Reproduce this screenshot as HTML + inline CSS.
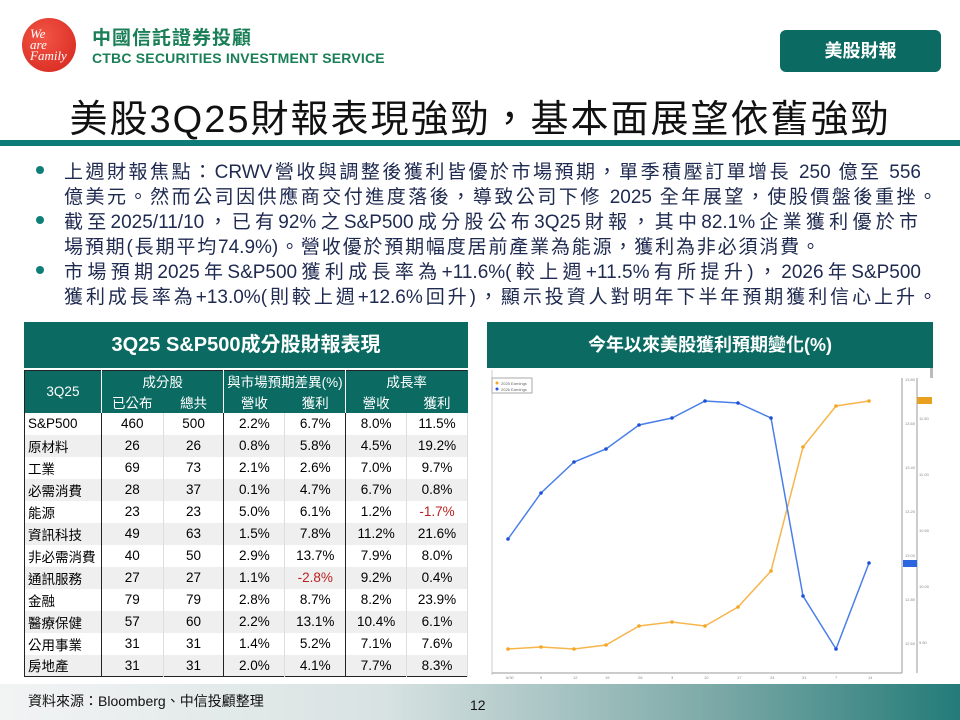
<!DOCTYPE html>
<html><head><meta charset="utf-8"><style>
*{margin:0;padding:0;box-sizing:border-box}
body{width:960px;height:720px;position:relative;background:#fff;font-family:"Liberation Sans","Noto Sans CJK TC",sans-serif;overflow:hidden}
.a{position:absolute}
.bul{position:absolute;left:36px;width:8px;height:8px;border-radius:50%;background:#0d7f78}
.txt{position:absolute;left:64px;font-size:19px;color:#1f2a50;line-height:24px;white-space:nowrap;text-align:justify;text-align-last:justify;text-justify:inter-character}
table{border-collapse:collapse;position:absolute;left:24px;top:370px;width:444px;font-size:13.5px}
td{height:22px;text-align:center;padding:0;border-right:1px solid #ddd}
td.b{border-right:1px solid #222}
tr.h td{background:#0b6b62;color:#fff;height:21px;border-color:#0b6b62;border-right:1px solid #0b6b62}
tr.h td.b{border-right:1px solid #fff}
tr.g td{background:#efefef}
td.l{text-align:left;padding-left:3px}
.r{color:#b22}
</style></head><body>
<!-- logo -->
<div class="a" style="left:22px;top:18px;width:54px;height:54px;border-radius:50%;background:radial-gradient(circle at 40% 35%,#f25545,#d4241c)"></div>
<div class="a" style="left:30px;top:28px;font:italic 13px 'Liberation Serif',serif;color:#fff;line-height:11px">We<br>are<br>Family</div>
<div class="a" style="left:92px;top:23px;font-size:19px;font-weight:bold;color:#1a7f57;letter-spacing:1px">中國信託證券投顧</div>
<div class="a" style="left:92px;top:50px;font-size:14px;font-weight:bold;color:#1a7f57;letter-spacing:0.2px">CTBC SECURITIES INVESTMENT SERVICE</div>
<div class="a" style="left:780px;top:30px;width:161px;height:42px;background:#0b6b62;border-radius:6px;color:#fff;font-size:18px;font-weight:bold;text-align:center;line-height:42px">美股財報</div>
<div class="a" style="left:0;width:960px;top:88px;text-align:center;font-size:38px;color:#111;letter-spacing:2px">美股3Q25財報表現強勁，基本面展望依舊強勁</div>
<div class="a" style="left:0;top:140px;width:960px;height:6px;background:#0d7b78"></div>
<!-- bullets -->
<div class="bul" style="top:166px"></div>
<div class="txt" style="top:161px;width:857px">上週財報焦點：CRWV營收與調整後獲利皆優於市場預期，單季積壓訂單增長 250 億至 556</div>
<div class="txt" style="top:186px;width:873px">億美元。然而公司因供應商交付進度落後，導致公司下修 2025 全年展望，使股價盤後重挫。</div>
<div class="bul" style="top:216px"></div>
<div class="txt" style="top:211px;width:854px">截至2025/11/10，已有92%之S&amp;P500成分股公布3Q25財報，其中82.1%企業獲利優於市</div>
<div class="txt" style="top:236px;width:756px">場預期(長期平均74.9%)。營收優於預期幅度居前產業為能源，獲利為非必須消費。</div>
<div class="bul" style="top:266px"></div>
<div class="txt" style="top:261px;width:857px">市場預期2025年S&amp;P500獲利成長率為+11.6%(較上週+11.5%有所提升)，2026年S&amp;P500</div>
<div class="txt" style="top:286px;width:873px">獲利成長率為+13.0%(則較上週+12.6%回升)，顯示投資人對明年下半年預期獲利信心上升。</div>
<!-- table -->
<div class="a" style="left:24px;top:322px;width:444px;height:46px;background:#0b6b62;color:#fff;font-size:20px;font-weight:bold;text-align:center;line-height:46px">3Q25 S&amp;P500成分股財報表現</div>
<table style="border:1px solid #222">
<colgroup><col style="width:77px"><col style="width:62px"><col style="width:61px"><col style="width:61px"><col style="width:61px"><col style="width:61px"><col style="width:61px"></colgroup>
<tr class="h"><td rowspan="2" class="b">3Q25</td><td colspan="2" class="b">成分股</td><td colspan="2" class="b">與市場預期差異(%)</td><td colspan="2">成長率</td></tr>
<tr class="h"><td>已公布</td><td class="b">總共</td><td>營收</td><td class="b">獲利</td><td>營收</td><td>獲利</td></tr>
<tr><td class="l b">S&amp;P500</td><td>460</td><td class="b">500</td><td>2.2%</td><td class="b">6.7%</td><td>8.0%</td><td>11.5%</td></tr>
<tr class="g"><td class="l b">原材料</td><td>26</td><td class="b">26</td><td>0.8%</td><td class="b">5.8%</td><td>4.5%</td><td>19.2%</td></tr>
<tr><td class="l b">工業</td><td>69</td><td class="b">73</td><td>2.1%</td><td class="b">2.6%</td><td>7.0%</td><td>9.7%</td></tr>
<tr class="g"><td class="l b">必需消費</td><td>28</td><td class="b">37</td><td>0.1%</td><td class="b">4.7%</td><td>6.7%</td><td>0.8%</td></tr>
<tr><td class="l b">能源</td><td>23</td><td class="b">23</td><td>5.0%</td><td class="b">6.1%</td><td>1.2%</td><td class="r">-1.7%</td></tr>
<tr class="g"><td class="l b">資訊科技</td><td>49</td><td class="b">63</td><td>1.5%</td><td class="b">7.8%</td><td>11.2%</td><td>21.6%</td></tr>
<tr><td class="l b">非必需消費</td><td>40</td><td class="b">50</td><td>2.9%</td><td class="b">13.7%</td><td>7.9%</td><td>8.0%</td></tr>
<tr class="g"><td class="l b">通訊服務</td><td>27</td><td class="b">27</td><td>1.1%</td><td class="b r">-2.8%</td><td>9.2%</td><td>0.4%</td></tr>
<tr><td class="l b">金融</td><td>79</td><td class="b">79</td><td>2.8%</td><td class="b">8.7%</td><td>8.2%</td><td>23.9%</td></tr>
<tr class="g"><td class="l b">醫療保健</td><td>57</td><td class="b">60</td><td>2.2%</td><td class="b">13.1%</td><td>10.4%</td><td>6.1%</td></tr>
<tr><td class="l b">公用事業</td><td>31</td><td class="b">31</td><td>1.4%</td><td class="b">5.2%</td><td>7.1%</td><td>7.6%</td></tr>
<tr class="g"><td class="l b">房地產</td><td>31</td><td class="b">31</td><td>2.0%</td><td class="b">4.1%</td><td>7.7%</td><td>8.3%</td></tr>
</table>
<!-- chart -->
<div class="a" style="left:487px;top:322px;width:446px;height:46px;background:#0b6b62;color:#fff;font-size:18px;font-weight:bold;text-align:center;line-height:46px">今年以來美股獲利預期變化(%)</div>
<svg class="a" style="left:487px;top:368px" width="446" height="314" viewBox="487 368 446 314">
<rect x="487" y="368" width="446" height="314" fill="#fff"/>
<line x1="492" y1="370" x2="492" y2="675" stroke="#ccc"/>
<line x1="492" y1="673" x2="902" y2="673" stroke="#999"/>
<line x1="902" y1="378" x2="902" y2="673" stroke="#999"/>
<line x1="917" y1="378" x2="917" y2="673" stroke="#999"/>
<rect x="492" y="378" width="40" height="15" fill="#fff" stroke="#aaa"/>
<circle cx="497" cy="383" r="1.5" fill="#f5a623"/><circle cx="497" cy="389" r="1.5" fill="#2255dd"/>
<text x="501" y="385" font-size="4" fill="#666">2025 Earnings</text><text x="501" y="391" font-size="4" fill="#666">2026 Earnings</text>
<polyline fill="none" stroke="#f7b54c" stroke-width="1.5" points="508,649 541,647 574,649 606,645 639,626 672,622 705,626 738,607 771,571 803,447 836,406 869,401"/>
<polyline fill="none" stroke="#4a7fe8" stroke-width="1.5" points="508,539 541,493 574,462 606,449 639,425 672,418 705,401 738,403 771,418 803,596 836,649 869,563"/>
<g fill="#f5a623"><circle cx="508" cy="649" r="1.8"/><circle cx="541" cy="647" r="1.8"/><circle cx="574" cy="649" r="1.8"/><circle cx="606" cy="645" r="1.8"/><circle cx="639" cy="626" r="1.8"/><circle cx="672" cy="622" r="1.8"/><circle cx="705" cy="626" r="1.8"/><circle cx="738" cy="607" r="1.8"/><circle cx="771" cy="571" r="1.8"/><circle cx="803" cy="447" r="1.8"/><circle cx="836" cy="406" r="1.8"/><circle cx="869" cy="401" r="1.8"/></g>
<g fill="#1f4fd8"><circle cx="508" cy="539" r="1.8"/><circle cx="541" cy="493" r="1.8"/><circle cx="574" cy="462" r="1.8"/><circle cx="606" cy="449" r="1.8"/><circle cx="639" cy="425" r="1.8"/><circle cx="672" cy="418" r="1.8"/><circle cx="705" cy="401" r="1.8"/><circle cx="738" cy="403" r="1.8"/><circle cx="771" cy="418" r="1.8"/><circle cx="803" cy="596" r="1.8"/><circle cx="836" cy="649" r="1.8"/><circle cx="869" cy="563" r="1.8"/></g>
<rect x="917" y="397" width="15" height="7" fill="#e8a020"/>
<rect x="903" y="560" width="14" height="7" fill="#2a66e0"/>
<g font-size="4" fill="#888"><text x="905" y="381">13.80</text><text x="905" y="425">13.60</text><text x="905" y="469">13.40</text><text x="905" y="513">13.20</text><text x="905" y="557">13.00</text><text x="905" y="601">12.80</text><text x="905" y="645">12.60</text>
<text x="919" y="420">11.50</text><text x="919" y="476">11.00</text><text x="919" y="532">10.50</text><text x="919" y="588">10.00</text><text x="919" y="644">9.50</text></g>
<g font-size="4" fill="#888"><text x="506" y="679">6/30</text><text x="540" y="679">5</text><text x="573" y="679">12</text><text x="605" y="679">19</text><text x="638" y="679">26</text><text x="671" y="679">3</text><text x="704" y="679">10</text><text x="737" y="679">17</text><text x="770" y="679">24</text><text x="802" y="679">31</text><text x="835" y="679">7</text><text x="868" y="679">14</text></g>
<rect x="930" y="368" width="3" height="10" fill="#bbb"/>
</svg>
<!-- footer -->
<div class="a" style="left:0;top:684px;width:960px;height:36px;background:linear-gradient(to right,#f2f4f4 0%,#d8e2e2 40%,#7aa8a6 75%,#237b78 100%)"></div>
<div class="a" style="left:28px;top:691px;font-size:14px;color:#111">資料來源：Bloomberg、中信投顧整理</div>
<div class="a" style="left:470px;top:697px;font-size:14px;color:#111">12</div>
</body></html>
